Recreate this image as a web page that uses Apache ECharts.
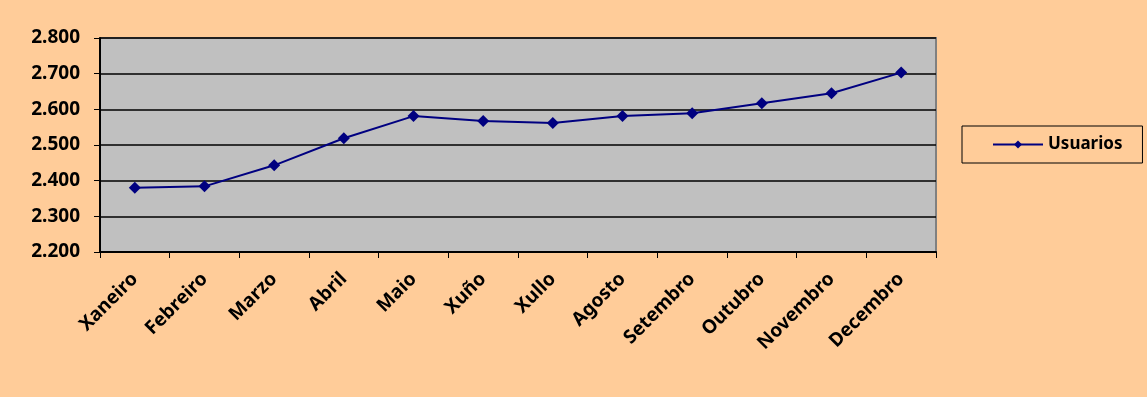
<!DOCTYPE html>
<html>
<head>
<meta charset="utf-8">
<script src="https://cdn.jsdelivr.net/npm/echarts@6/dist/echarts.min.js"></script>
<style>
  html, body { margin:0; padding:0; background:#FFCC99; }
  #chart { width:1147px; height:397px; }
</style>
</head>
<body>
<div id="chart"></div>
<script>
var months = ['Xaneiro', 'Febreiro', 'Marzo', 'Abril', 'Maio', 'Xuño', 'Xullo', 'Agosto', 'Setembro', 'Outubro', 'Novembro', 'Decembro'];
var usuarios = [2380, 2384, 2443, 2519, 2581, 2567, 2562, 2581, 2589, 2617, 2645, 2703];
var yMin = 2200, yMax = 2800, yStep = 100;

var font = '"Noto Sans", sans-serif';
var myChart = echarts.init(document.getElementById('chart'));
var option = {
  backgroundColor: '#FFCC99',
  animation: false,
  grid: {
    left: 100, top: 38, width: 836, height: 214,
    show: true, backgroundColor: '#C0C0C0', borderColor: '#808080', borderWidth: 2
  },
  legend: {
    left: 962, top: 126,
    orient: 'vertical',
    borderColor: '#000', borderWidth: 1,
    padding: [10, 20, 10, 30],
    itemWidth: 50, itemHeight: 10, itemGap: 8,
    textStyle: { fontFamily: font, fontWeight: 'bold', fontSize: 17, color: '#000' },
    data: ['Usuarios']
  },
  xAxis: {
    type: 'category',
    data: months,
    boundaryGap: true,
    axisLine: { lineStyle: { color: '#000', width: 2 } },
    axisTick: { show: true, length: 6, lineStyle: { color: '#000', width: 1 } },
    axisLabel: {
      rotate: 45, margin: 24, interval: 0,
      fontFamily: font, fontWeight: 'bold', fontSize: 19, color: '#000'
    },
    splitLine: { show: false }
  },
  yAxis: {
    type: 'value',
    min: yMin, max: yMax, interval: yStep,
    axisLine: { show: true, lineStyle: { color: '#000', width: 2 } },
    axisTick: { show: true, length: 6, lineStyle: { color: '#000' } },
    axisLabel: {
      margin: 20,
      fontFamily: font, fontWeight: 'bold', fontSize: 19, color: '#000',
      formatter: function (v) { return (v / 1000).toFixed(3); }
    },
    splitLine: { lineStyle: { color: '#000', width: 1.5 } }
  },
  series: [{
    name: 'Usuarios',
    type: 'line',
    data: usuarios,
    color: '#000080',
    symbol: 'diamond',
    symbolSize: 12,
    lineStyle: { color: '#000080', width: 2 },
    itemStyle: { color: '#000080' }
  }]
};
myChart.setOption(option);
window.addEventListener('resize', function () { myChart.resize(); });
</script>
</body>
</html>
